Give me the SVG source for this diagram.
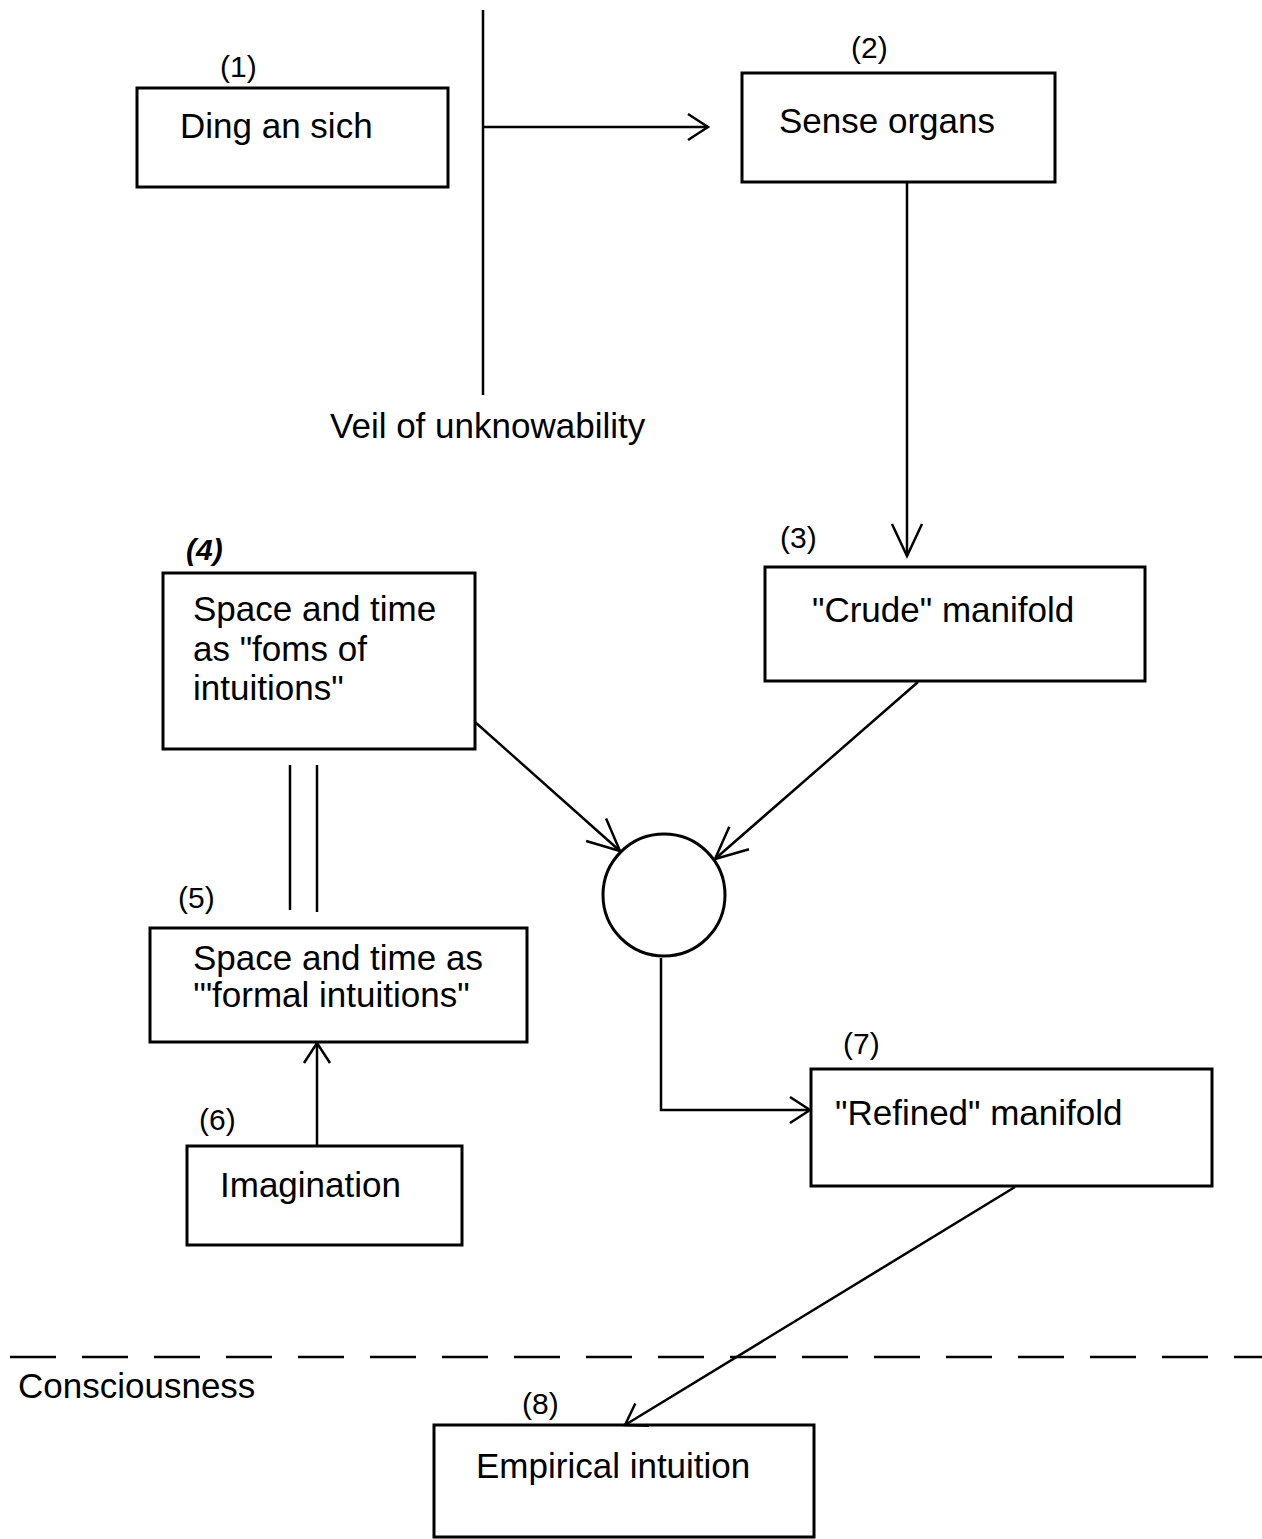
<svg xmlns="http://www.w3.org/2000/svg" width="1262" height="1539" viewBox="0 0 1262 1539">
<style>
.box{fill:#fff;stroke:#000;stroke-width:3}
.t{font-family:"Liberation Sans",Arial,sans-serif;font-size:35px;fill:#000}
.n{font-family:"Liberation Sans",Arial,sans-serif;font-size:30px;fill:#000}
.ln{fill:none;stroke:#000;stroke-width:2.5}
</style>
<defs>
<marker id="arr" markerUnits="userSpaceOnUse" markerWidth="40" markerHeight="40" refX="0" refY="0" orient="auto" overflow="visible">
<path d="M-20,-13 L0,0 L-20,13" fill="none" stroke="#000" stroke-width="2.5"/>
</marker>
<marker id="arrL" markerUnits="userSpaceOnUse" markerWidth="40" markerHeight="40" refX="0" refY="0" orient="auto" overflow="visible">
<path d="M-32,-15 L0,0 L-32,15" fill="none" stroke="#000" stroke-width="2.5"/>
</marker>
</defs>
<rect width="1262" height="1539" fill="#fff"/>

<g id="veil">
<line x1="483" y1="10" x2="483" y2="395" class="ln" stroke-width="3"/>
<text x="330" y="438" class="t">Veil of unknowability</text>
</g>

<g id="node1">
<rect x="137" y="88" width="311" height="99" class="box"/>
<text x="220" y="77" class="n">(1)</text>
<text x="180" y="138" class="t">Ding an sich</text>
</g>

<g id="node2">
<rect x="742" y="73" width="313" height="109" class="box"/>
<text x="851" y="58" class="n">(2)</text>
<text x="779" y="133" class="t">Sense organs</text>
</g>

<g id="node3">
<rect x="765" y="567" width="380" height="114" class="box"/>
<text x="780" y="548" class="n">(3)</text>
<text x="812" y="622" class="t">"Crude" manifold</text>
</g>

<g id="node4">
<rect x="163" y="573" width="312" height="176" class="box"/>
<text x="186" y="560" class="n" font-weight="bold" font-style="italic">(4)</text>
<text x="193" y="621" class="t">Space and time</text>
<text x="193" y="661" class="t">as "foms of</text>
<text x="193" y="700" class="t">intuitions"</text>
</g>

<g id="node5">
<rect x="150" y="928" width="377" height="114" class="box"/>
<text x="178" y="908" class="n">(5)</text>
<text x="193" y="970" class="t">Space and time as</text>
<text x="193" y="1007" class="t">'"formal intuitions"</text>
</g>

<g id="node6">
<rect x="187" y="1146" width="275" height="99" class="box"/>
<text x="199" y="1130" class="n">(6)</text>
<text x="220" y="1197" class="t">Imagination</text>
</g>

<g id="circle">
<circle cx="664" cy="895" r="61" fill="#fff" stroke="#000" stroke-width="3"/>
</g>

<g id="node7">
<rect x="811" y="1069" width="401" height="117" class="box"/>
<text x="843" y="1054" class="n">(7)</text>
<text x="835" y="1125" class="t">"Refined" manifold</text>
</g>

<g id="consciousness">
<line x1="10" y1="1357" x2="1262" y2="1357" class="ln" stroke-width="3" stroke-dasharray="46 26"/>
<text x="18" y="1398" class="t">Consciousness</text>
</g>

<g id="node8">
<rect x="434" y="1425" width="380" height="112" class="box"/>
<text x="522" y="1414" class="n">(8)</text>
<text x="476" y="1478" class="t">Empirical intuition</text>
</g>

<g id="connectors">
<line x1="483" y1="127" x2="708" y2="127" class="ln" marker-end="url(#arr)"/>
<line x1="907" y1="183" x2="907" y2="556" class="ln" marker-end="url(#arrL)"/>
<line x1="475" y1="722" x2="620" y2="851" class="ln" marker-end="url(#arrL)"/>
<line x1="918" y1="682" x2="715" y2="859" class="ln" marker-end="url(#arrL)"/>
<line x1="290" y1="765" x2="290" y2="910" class="ln"/>
<line x1="317" y1="765" x2="317" y2="912" class="ln"/>
<line x1="317" y1="1145" x2="317" y2="1043" class="ln" marker-end="url(#arr)"/>
<polyline points="661,958 661,1110 810,1110" class="ln" marker-end="url(#arr)"/>
<line x1="1015" y1="1187" x2="625" y2="1425" class="ln" marker-end="url(#arr)"/>
</g>
</svg>
